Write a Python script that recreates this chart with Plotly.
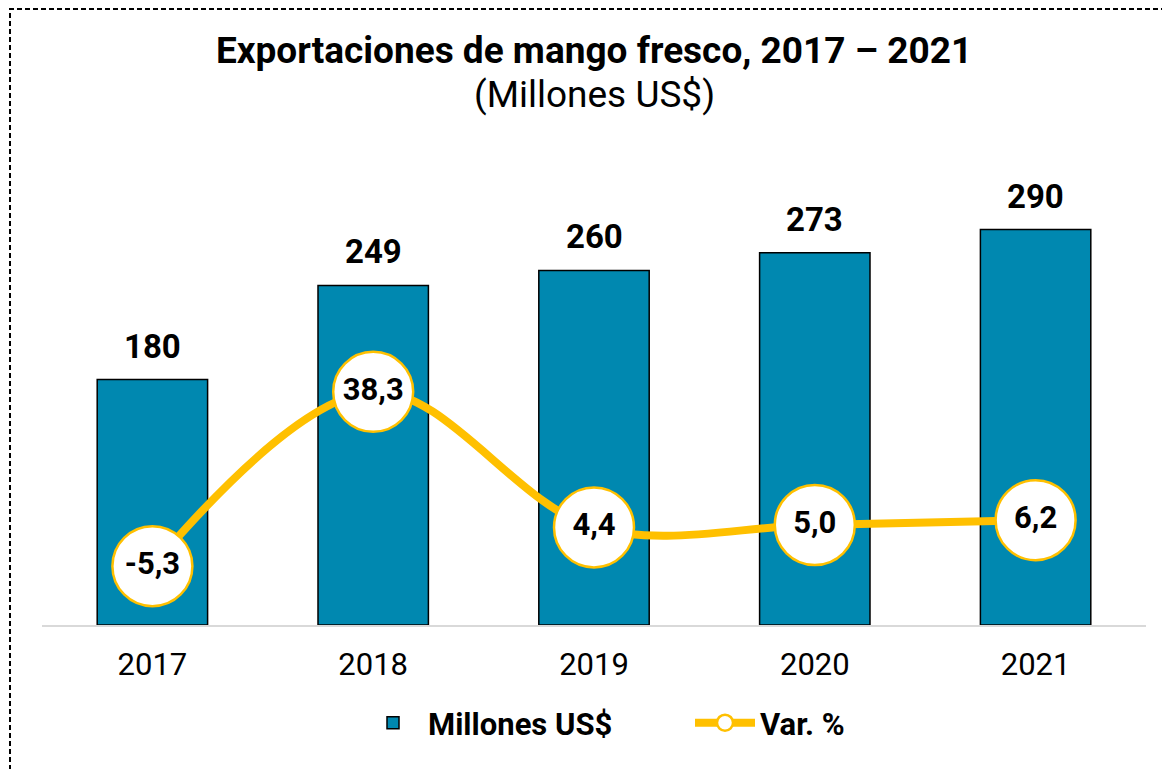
import plotly.graph_objects as go

years = ["2017", "2018", "2019", "2020", "2021"]
exports = [180, 249, 260, 273, 290]
var_pct = [-5.3, 38.3, 4.4, 5.0, 6.2]
var_labels = ["-5,3", "38,3", "4,4", "5,0", "6,2"]
export_labels = ["180", "249", "260", "273", "290"]

BAR = "#0088B0"
YEL = "#FFC000"
FONT = "Roboto"

# page body has an 8px margin; layout numbers below are in figure pixels
W, H = 1170, 769
L, T, R, B = 34, 137, 32, 152
PW, PH = W - L - R, H - T - B  # 1104 x 480

fig = go.Figure()
fig.add_trace(go.Bar(
    x=years, y=exports, name="<b>Millones US$</b>",
    marker=dict(color=BAR, line=dict(color="#000000", width=1.5)),
    width=0.5, yaxis="y",
))
fig.add_trace(go.Scatter(
    x=years, y=var_pct, name="<b>Var. %</b>", yaxis="y2",
    mode="lines+markers+text",
    line=dict(color=YEL, width=8, shape="spline", smoothing=1),
    marker=dict(size=80, color="#FFFFFF", line=dict(color=YEL, width=2.5)),
    text=var_labels, textposition="middle center",
    textfont=dict(family=FONT, size=31, color="#000000", weight="bold"),
    cliponaxis=False,
))

# value labels above bars (category axis: annotation x is the category index)
for i, (v, lab) in enumerate(zip(exports, export_labels)):
    fig.add_annotation(x=i, y=v, xref="x", yref="y", text=f"<b>{lab}</b>",
                       showarrow=False, yanchor="bottom", yshift=12,
                       font=dict(family=FONT, size=33, color="#000000"))

# subtitle
fig.add_annotation(x=0.5, xref="paper", y=1 + (T - 87) / PH, yref="paper",
                   text="(Millones US$)", showarrow=False, yanchor="middle",
                   font=dict(family=FONT, size=37, color="#000000"))

# dashed outer border
fig.add_shape(type="rect", xref="paper", yref="paper",
              x0=(2 - L) / PW, x1=(W + 20 - L) / PW,
              y0=-(H + 20 - (T + PH)) / PH, y1=1 + (T - 1) / PH,
              line=dict(color="#000000", width=2, dash="5px,3px"),
              fillcolor="rgba(0,0,0,0)", layer="below")

fig.update_layout(
    width=W, height=H,
    margin=dict(l=L, r=R, t=T, b=B, autoexpand=False),
    paper_bgcolor="#FFFFFF", plot_bgcolor="#FFFFFF",
    font=dict(family=FONT, color="#000000"),
    title=dict(
        text="<b>Exportaciones de mango fresco, 2017 – 2021</b>",
        x=0.5, xref="paper", xanchor="center",
        y=1 - 42 / H, yref="container", yanchor="middle",
        font=dict(family=FONT, size=37, color="#000000"),
    ),
    xaxis=dict(
        type="category", range=[-0.5, 4.5],
        showline=True, linecolor="#D9D9D9", linewidth=2,
        ticks="", showgrid=False, zeroline=False,
        tickfont=dict(family=FONT, size=31, color="#000000"),
        ticklabelstandoff=11,
    ),
    yaxis=dict(range=[0, 352], visible=False, showgrid=False, zeroline=False),
    yaxis2=dict(range=[-20, 100], overlaying="y", side="right", visible=False,
                showgrid=False, zeroline=False),
    showlegend=True,
    legend=dict(
        orientation="h", x=(350 - L) / PW, xanchor="left", xref="paper",
        y=1 - 715 / H, yref="container", yanchor="middle",
        font=dict(family=FONT, size=31, color="#000000"),
        itemwidth=60, traceorder="normal",
        entrywidthmode="pixels", entrywidth=257,
    ),
)

fig.write_html("out.html")
